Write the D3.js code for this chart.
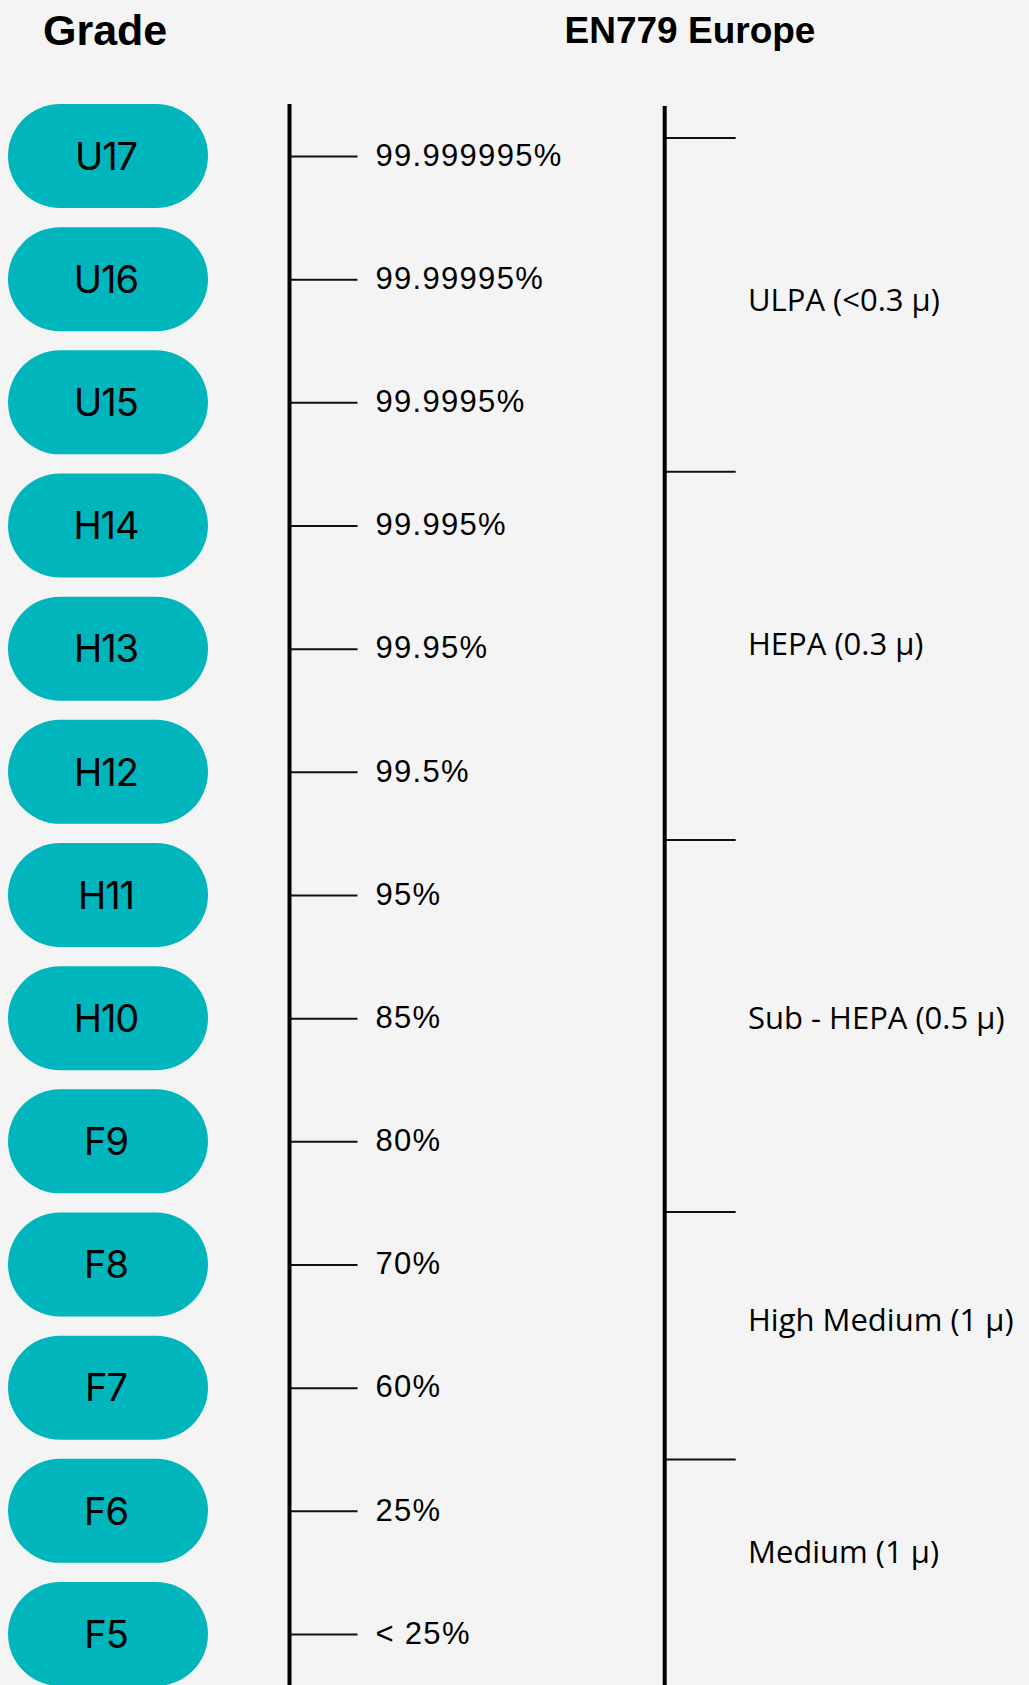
<!DOCTYPE html>
<html>
<head>
<meta charset="utf-8">
<script src="https://cdn.jsdelivr.net/npm/d3@7"></script>
<style>
  html, body { margin: 0; padding: 0; background: #f4f4f4; }
  svg { display: block; }
</style>
</head>
<body>
<script>
// ---- data ----
const grades = ["U17","U16","U15","H14","H13","H12","H11","H10","F9","F8","F7","F6","F5"];
const efficiencies = ["99.999995%","99.99995%","99.9995%","99.995%","99.95%","99.5%","95%","85%","80%","70%","60%","25%","< 25%"];
// class boundaries and label centres on the grade-index scale
const classBoundaries = [-0.15, 2.56, 5.55, 8.57, 10.58];
const classNames = ["ULPA (<0.3 μ)","HEPA (0.3 μ)","Sub - HEPA (0.5 μ)","High Medium (1 μ)","Medium (1 μ)"];
const classCentres = [1.17, 3.96, 7.0, 9.45, 11.33];
const titles = ["Grade", "EN779 Europe"];

// ---- layout ----
const W = 1029, H = 1685;
const svg = d3.select("body").append("svg").attr("width", W).attr("height", H);
svg.append("rect").attr("width", W).attr("height", H).attr("fill", "#f4f4f4");

const y = d3.scaleLinear().domain([0, grades.length - 1]).range([156, 1634]);
const gIndex = d3.scaleOrdinal().domain(grades).range(d3.range(grades.length));

// titles
svg.append("text").attr("x", 43).attr("y", 45)
  .attr("font-family", "Liberation Sans, Arial, sans-serif").attr("font-weight", 700)
  .attr("font-size", 43).attr("fill", "#000").text(titles[0]);
svg.append("text").attr("x", 690).attr("y", 43).attr("text-anchor", "middle")
  .attr("font-family", "Liberation Sans, Arial, sans-serif").attr("font-weight", 700)
  .attr("font-size", 37).attr("fill", "#000").text(titles[1]);

// pills
const pillW = 200, pillH = 104, pillX = 8;
const pills = svg.append("g").selectAll("g").data(grades).join("g")
  .attr("transform", d => `translate(0,${y(gIndex(d))})`);
pills.append("rect").attr("x", pillX).attr("y", -pillH / 2)
  .attr("width", pillW).attr("height", pillH)
  .attr("rx", pillH / 2).attr("ry", pillH / 2).attr("fill", "#00b6bc");
pills.append("text").attr("x", pillX + pillW / 2 - 2).attr("y", 0)
  .attr("dy", "0.36em").attr("text-anchor", "middle")
  .attr("font-family", "Inter, Liberation Sans, sans-serif")
  .attr("font-size", 38).attr("letter-spacing", "-1px").attr("fill", "#000").text(d => d);

// left axis (efficiency)
const leftX = 289.5;
const leftAxis = d3.axisRight(y).tickValues(d3.range(grades.length))
  .tickFormat(i => efficiencies[i]).tickSize(68).tickPadding(18);
const gl = svg.append("g").attr("transform", `translate(${leftX},0)`).call(leftAxis);
gl.select(".domain").remove();
gl.selectAll(".tick line").attr("stroke", "#111").attr("stroke-width", 2);
gl.selectAll(".tick text").attr("fill", "#000")
  .attr("font-family", "Liberation Sans, Arial, sans-serif")
  .attr("font-size", 31).attr("letter-spacing", "1.3px").attr("dy", "0.3em");
svg.append("line").attr("x1", leftX).attr("x2", leftX).attr("y1", 104).attr("y2", H)
  .attr("stroke", "#000").attr("stroke-width", 4);

// right axis (classes)
const rightX = 664.7;
const rightAxis = d3.axisRight(y).tickValues(classBoundaries).tickFormat("").tickSize(71);
const gr = svg.append("g").attr("transform", `translate(${rightX},0)`).call(rightAxis);
gr.select(".domain").remove();
gr.selectAll(".tick line").attr("stroke", "#111").attr("stroke-width", 2);
svg.append("line").attr("x1", rightX).attr("x2", rightX).attr("y1", 106).attr("y2", H)
  .attr("stroke", "#000").attr("stroke-width", 4);

svg.append("g").selectAll("text").data(classNames).join("text")
  .attr("x", 748).attr("y", (d, i) => y(classCentres[i])).attr("dy", "0.36em")
  .attr("font-family", "Open Sans, Noto Sans, sans-serif").attr("font-size", 31)
  .attr("fill", "#000").text(d => d);
</script>
</body>
</html>
